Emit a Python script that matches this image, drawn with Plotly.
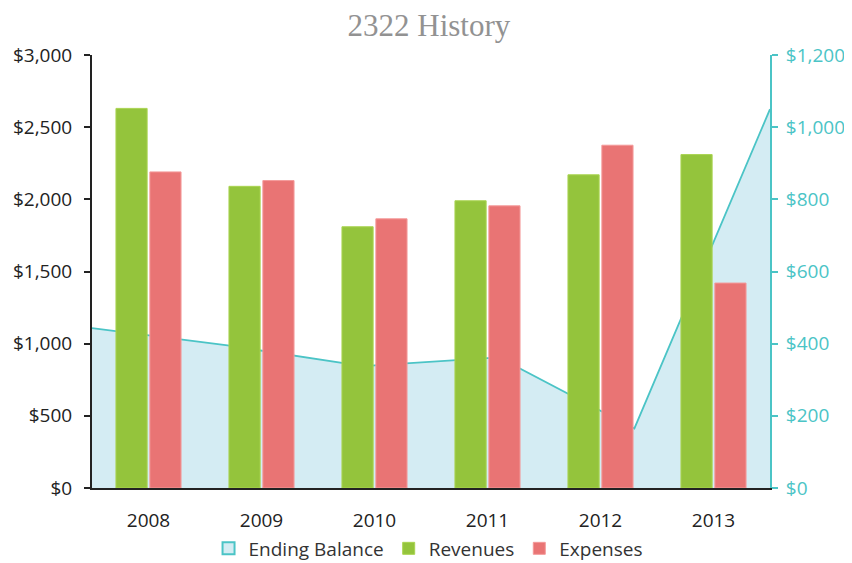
import plotly.graph_objects as go

years = ["2008", "2009", "2010", "2011", "2012", "2013"]
revenues = [2630, 2090, 1810, 1990, 2170, 2310]
expenses = [2190, 2130, 1865, 1955, 2375, 1420]
ending_balance = [443, 395, 338, 362, 165, 1050]

teal = "#4bc4c6"
font_main = "'Open Sans', sans-serif"

fig = go.Figure()

# area on the base axes so bars (overlay axes) sit on top
fig.add_trace(go.Scatter(
    x=years, y=ending_balance, name="Ending Balance", mode="lines",
    fill="tozeroy", fillcolor="#d4ecf3",
    line=dict(color=teal, width=1.8),
    xaxis="x", yaxis="y", showlegend=False, legendgroup="bal",
))
# legend swatch for the area (square like the bars)
fig.add_trace(go.Bar(
    x=years, y=[None] * len(years), name="Ending Balance",
    marker=dict(color="#d4ecf3", line=dict(color=teal, width=2)),
    xaxis="x", yaxis="y", legendgroup="bal",
))
fig.add_trace(go.Bar(
    x=years, y=revenues, name="Revenues",
    marker=dict(color="#94c43c", line=dict(color="#aad451", width=1)),
    xaxis="x2", yaxis="y2",
))
fig.add_trace(go.Bar(
    x=years, y=expenses, name="Expenses",
    marker=dict(color="#e97474", line=dict(color="#f49a9a", width=1)),
    xaxis="x2", yaxis="y2",
))

fig.update_layout(
    width=852, height=563,
    margin=dict(l=84, r=90, t=47, b=83),
    paper_bgcolor="white", plot_bgcolor="white",
    title=dict(text="2322 History", x=0.494, xanchor="center", y=0.970, yanchor="middle",
               font=dict(family="'Liberation Serif', serif", size=31, color="#929292")),
    font=dict(family=font_main, size=19, color="#222222"),
    barmode="group", bargap=0.4, bargroupgap=0.08,
    showlegend=True,
    legend=dict(orientation="h", x=0.493, xanchor="center", xref="container",
                y=0.04, yanchor="middle", yref="container",
                font=dict(size=19, color="#333333"), itemwidth=30,
                traceorder="normal"),
    xaxis=dict(type="category", range=[0, 5], visible=False, showgrid=False,
               automargin=False),
    yaxis=dict(side="right", range=[0, 1200], dtick=200, tickprefix="$",
               tickformat=",", showgrid=False, zeroline=False, automargin=False,
               showline=True, linecolor=teal, linewidth=2,
               ticks="outside", ticklen=6, tickcolor=teal, tickwidth=2,
               ticklabelstandoff=4, tickfont=dict(color=teal, size=19)),
    xaxis2=dict(type="category", overlaying="x", anchor="y2", side="bottom",
                range=[-0.5, 5.5], showgrid=False, showline=True, automargin=False,
                linecolor="#222222", linewidth=2, ticks="",
                ticklabelstandoff=14, tickfont=dict(size=19, color="#222222")),
    yaxis2=dict(overlaying="y", side="left", anchor="x2", range=[0, 3000], dtick=500,
                tickprefix="$", tickformat=",", showgrid=False, zeroline=False,
                automargin=False, showline=True, linecolor="#222222", linewidth=2,
                ticks="outside", ticklen=6, tickcolor="#222222", tickwidth=2,
                ticklabelstandoff=8, tickfont=dict(size=19, color="#222222")),
)

fig.write_html("out.html")
